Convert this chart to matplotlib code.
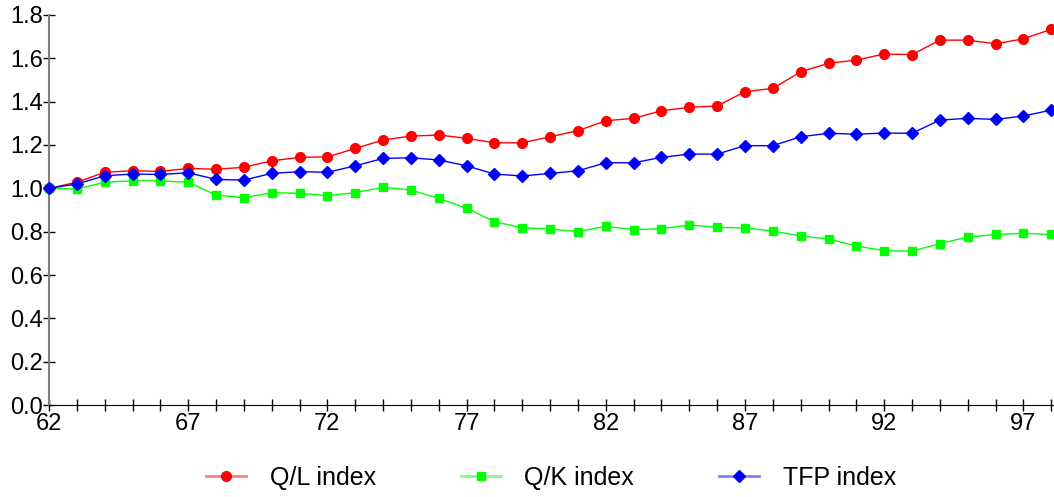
import matplotlib
matplotlib.use("Agg")
import matplotlib.pyplot as plt
from matplotlib.lines import Line2D
from matplotlib.ticker import MultipleLocator, FixedLocator

plt.rcParams['font.family'] = ['Liberation Sans', 'DejaVu Sans']

years = list(range(62, 99))
year_ticks = [62, 67, 72, 77, 82, 87, 92, 97]

ql_index = [1.000, 1.028, 1.074, 1.081, 1.078, 1.092, 1.088, 1.097, 1.127, 1.143,
            1.145, 1.184, 1.223, 1.241, 1.246, 1.231, 1.210, 1.210, 1.238, 1.266,
            1.312, 1.323, 1.358, 1.374, 1.380, 1.446, 1.461, 1.538, 1.577, 1.592,
            1.620, 1.617, 1.684, 1.684, 1.667, 1.690, 1.734]
qk_index = [1.000, 0.997, 1.028, 1.035, 1.034, 1.028, 0.969, 0.957, 0.980, 0.977,
            0.966, 0.980, 1.005, 0.992, 0.954, 0.908, 0.846, 0.818, 0.812, 0.800,
            0.825, 0.809, 0.814, 0.831, 0.820, 0.817, 0.803, 0.780, 0.766, 0.734,
            0.712, 0.710, 0.745, 0.775, 0.787, 0.792, 0.787]
tfp_index = [1.000, 1.020, 1.058, 1.066, 1.064, 1.072, 1.041, 1.038, 1.069, 1.077,
             1.074, 1.104, 1.138, 1.141, 1.131, 1.104, 1.066, 1.057, 1.069, 1.081,
             1.118, 1.118, 1.143, 1.158, 1.158, 1.197, 1.197, 1.238, 1.254, 1.250,
             1.255, 1.254, 1.315, 1.323, 1.318, 1.334, 1.361]

fig = plt.figure(figsize=(10.54, 4.97), dpi=100)
ax = fig.add_axes([49 / 1054, 92 / 497, 1 - 49 / 1054, 390 / 497])

ax.plot(years, ql_index, color='#ff0000', lw=1, marker='o', ms=7, clip_on=False, zorder=3)
ax.plot(years, qk_index, color='#00ff00', lw=1, marker='s', ms=6, clip_on=False, zorder=3)
ax.plot(years, tfp_index, color='#0000ff', lw=1, marker='D', ms=6.5, clip_on=False, zorder=4)

ax.set_xlim(62, 98.1)
ax.set_ylim(0, 1.8)
ax.xaxis.set_major_locator(FixedLocator(year_ticks))
ax.xaxis.set_minor_locator(MultipleLocator(1))
ax.yaxis.set_major_locator(MultipleLocator(0.2))
ax.yaxis.set_major_formatter(plt.FormatStrFormatter('%.1f'))

for s in ['top', 'right']:
    ax.spines[s].set_visible(False)
ax.spines['left'].set_color('#808080')
ax.spines['left'].set_linewidth(1.5)
ax.spines['bottom'].set_color('black')
ax.tick_params(axis='x', which='both', direction='inout', length=8, width=1,
               labelsize=17, pad=2)
ax.tick_params(axis='y', which='major', direction='inout', length=9, width=1,
               labelsize=17, pad=0)

handles = [
    Line2D([], [], color='#ff8080', lw=2, marker='o', ms=7, mfc='#ff0000', mec='#ff0000'),
    Line2D([], [], color='#80ff80', lw=2, marker='s', ms=6, mfc='#00ff00', mec='#00ff00'),
    Line2D([], [], color='#8080ff', lw=2, marker='D', ms=6.5, mfc='#0000ff', mec='#0000ff'),
]
fig.legend(handles, ['Q/L index', 'Q/K index', 'TFP index'], loc='center',
           bbox_to_anchor=(551 / 1054, 1 - 478 / 497), ncol=3, frameon=False,
           fontsize=18, handlelength=1.6, handletextpad=0.95, columnspacing=3.4)

fig.savefig('out.png', dpi=100)
